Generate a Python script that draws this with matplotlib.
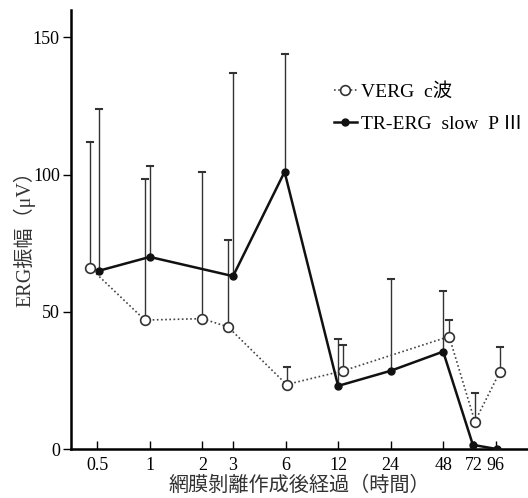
import matplotlib
matplotlib.use("Agg")
import matplotlib.pyplot as plt

# time after detachment (hours)
hours = [0.5, 1, 2, 3, 6, 12, 24, 48, 72, 96]
tick_labels = ["0.5", "1", "2", "3", "6", "12", "24", "48", "72", "96"]

# VERG c wave (no value at 24 h)
verg_x = [0.5, 1, 2, 3, 6, 12, 48, 72, 96]
verg_mean = [66, 47, 47.5, 44.5, 23.5, 28.5, 41, 10, 28]
verg_top = [112, 98.5, 101, 76, 30, 38, 47, 20.5, 37]

# TR-ERG slow PIII
tr_x = [0.5, 1, 3, 6, 12, 24, 48, 72, 96]
tr_mean = [65, 70, 63, 101, 23, 28.5, 35.5, 1.5, 0]
tr_top = [124, 103, 137, 144, 40, 62, 57.5, None, None]

# small horizontal shifts (pixels) so bars don't overlap
verg_dx = [-7, -5, 0, -5, 1, 5, 6, 1, 4]
tr_dx = [2, 0, 0, -1, 0, 0, 0, -1, 1]

px_per_oct = 52.5
serif = ["Liberation Serif", "Noto Sans CJK JP"]

fig = plt.figure(figsize=(5.28, 4.98), dpi=100)
ax = fig.add_axes([71 / 528, 1 - 449 / 498, 1 - 71 / 528, (449 - 10) / 498])


def shift(xs, dxs):
    return [x * 2 ** (d / px_per_oct) for x, d in zip(xs, dxs)]


vx = shift(verg_x, verg_dx)
tx = shift(tr_x, tr_dx)
cap = 2 ** (3 / px_per_oct)

# error bars (upper only)
for x, m, t in zip(vx, verg_mean, verg_top):
    ax.plot([x, x], [m, t], color="#333333", lw=1.0, zorder=1)
    ax.plot([x / cap, x * cap], [t, t], color="#333333", lw=1.5, zorder=1)
for x, m, t in zip(tx, tr_mean, tr_top):
    if t is None:
        continue
    ax.plot([x, x], [m, t], color="#333333", lw=1.0, zorder=1)
    ax.plot([x / cap, x * cap], [t, t], color="#333333", lw=1.5, zorder=1)

ax.plot(vx, verg_mean, linestyle=(0, (1, 1.5)), color="#444444", lw=1.2,
        marker="o", markersize=7, markerfacecolor="white",
        markeredgecolor="#333333", markeredgewidth=1.2, zorder=3,
        label="VERG  c波")
ax.plot(tx, tr_mean, linestyle="-", color="#111111", lw=1.8,
        marker="o", markersize=5, markerfacecolor="#111111",
        markeredgecolor="#111111", zorder=4,
        label="TR-ERG  slow  P Ⅲ")

ax.set_xscale("log", base=2)
ax.set_xlim(2 ** -1.5, 2 ** 7.2)
ax.set_ylim(0, 160)
ax.set_xticks(hours)
ax.set_xticklabels(tick_labels, family=serif, fontsize=13)
ax.xaxis.set_minor_locator(matplotlib.ticker.NullLocator())
ax.set_yticks([0, 50, 100, 150])
ax.set_yticklabels(["0", "50", "100", "150"], family=serif, fontsize=13)
ax.tick_params(axis="x", direction="in", length=6, width=1, pad=6)
ax.tick_params(axis="y", direction="out", length=6, width=1, pad=2)

for s in ["top", "right"]:
    ax.spines[s].set_visible(False)
for s in ["left", "bottom"]:
    ax.spines[s].set_linewidth(1.8)

ax.set_xlabel("網膜剝離作成後経過（時間）", family=serif, fontsize=14.5, color="#333333")
ax.xaxis.set_label_coords(0.5, -0.064)
ax.set_ylabel("ERG振幅（μV）", family=serif, fontsize=14.5, color="#333333")
ax.yaxis.set_label_coords(-0.078, 0.49)

ax.legend(loc="upper left", bbox_to_anchor=(0.575, 0.833), frameon=False,
          borderpad=0, borderaxespad=0,
          handlelength=1.2, handletextpad=0.2, labelspacing=0.75,
          prop={"family": serif, "size": 14})

fig.savefig("out.png", dpi=100)
